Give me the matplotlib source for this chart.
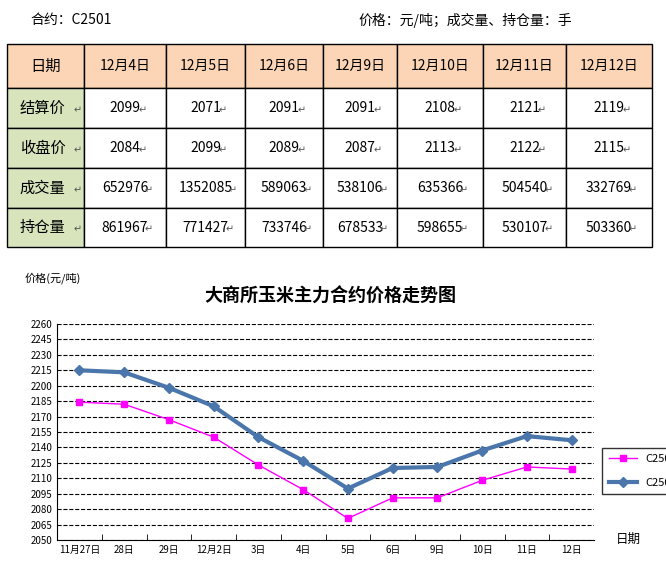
import matplotlib.pyplot as plt
from matplotlib.patches import Rectangle

plt.rcParams['font.family'] = ['Noto Sans CJK SC', 'DejaVu Sans']

dates = ['12月4日', '12月5日', '12月6日', '12月9日', '12月10日', '12月11日', '12月12日']
row_names = ['结算价', '收盘价', '成交量', '持仓量']
settle = [2099, 2071, 2091, 2091, 2108, 2121, 2119]
close = [2084, 2099, 2089, 2087, 2113, 2122, 2115]
volume = [652976, 1352085, 589063, 538106, 635366, 504540, 332769]
open_int = [861967, 771427, 733746, 678533, 598655, 530107, 503360]

x_labels = ['11月27日', '28日', '29日', '12月2日', '3日', '4日', '5日', '6日', '9日', '10日', '11日', '12日']
c2501 = [2184, 2182, 2167, 2150, 2123, 2099, 2071, 2091, 2091, 2108, 2121, 2119]
c2503 = [2215, 2213, 2198, 2180, 2150, 2127, 2100, 2120, 2121, 2137, 2151, 2147]

W, H = 666, 572
fig = plt.figure(figsize=(W / 100, H / 100), dpi=100)

# table drawn in pixel coords on an overlay axis
tab = fig.add_axes([0, 0, 1, 1])
tab.set_xlim(0, W)
tab.set_ylim(H, 0)
tab.axis('off')

tab.text(30, 20, '合约：C2501', fontsize=10, va='center')
tab.text(358, 20, '价格：元/吨；成交量、持仓量：手', fontsize=10, va='center')

cols = [7, 84, 166, 245, 323, 397, 483, 566, 652]
rows = [44, 88, 128, 168, 208, 247]
for i in range(len(cols) - 1):
    for j in range(len(rows) - 1):
        if j == 0:
            fc = '#fbd5b5'
        elif i == 0:
            fc = '#d7e4bc'
        else:
            fc = 'white'
        tab.add_patch(Rectangle((cols[i], rows[j]), cols[i + 1] - cols[i], rows[j + 1] - rows[j],
                                facecolor=fc, edgecolor='black', lw=1))

tab.text((cols[0] + cols[1]) / 2, (rows[0] + rows[1]) / 2, '日期', ha='center', va='center', fontsize=11)
for i, d in enumerate(dates):
    tab.text((cols[i + 1] + cols[i + 2]) / 2, (rows[0] + rows[1]) / 2, d,
             ha='center', va='center', fontsize=10)
for j, (name, vals) in enumerate(zip(row_names, [settle, close, volume, open_int])):
    cy = (rows[j + 1] + rows[j + 2]) / 2
    tab.text((cols[0] + cols[1]) / 2 - 3, cy, name, ha='center', va='center', fontsize=11)
    tab.text(cols[1] - 6, cy + 2, '↵', ha='center', va='center', fontsize=7, color='#555555')
    for i, v in enumerate(vals):
        cx = (cols[i + 1] + cols[i + 2]) / 2
        tab.text(cx, cy, str(v), ha='center', va='center', fontsize=10)
        tab.text(cx + len(str(v)) * 3.3 + 4, cy + 2, '↵', ha='center', va='center',
                 fontsize=7, color='#555555')

# chart
ax = fig.add_axes([57 / W, 1 - 540 / H, (594 - 57) / W, (540 - 324) / H])
x = list(range(len(x_labels)))
ax.plot(x, c2501, color='#ff00ff', lw=1, marker='s', ms=4, label='C2501')
ax.plot(x, c2503, color='#4a76ac', lw=3, marker='D', ms=5, label='C2503')
ax.set_xlim(-0.5, len(x_labels) - 0.5)
ax.set_ylim(2050, 2260)
ax.set_yticks(range(2050, 2261, 15))
ax.set_xticks(x)
ax.set_xticklabels(x_labels, fontsize=7)
ax.tick_params(axis='y', labelsize=7, length=0)
ax.tick_params(axis='x', length=0)
ax.set_xticks([k + 0.5 for k in x[:-1]], minor=True)
ax.tick_params(axis='x', which='minor', length=4, direction='in')
ax.grid(axis='y', color='black', ls='--', lw=0.8)
for s in ['top', 'right']:
    ax.spines[s].set_visible(False)
ax.legend(loc='center left', bbox_to_anchor=(1.005, 0.32), fontsize=8, frameon=True,
          fancybox=False, edgecolor='black', handlelength=2.5, labelspacing=1.2,
          borderpad=0.6)

fig.text(25 / W, 1 - 281 / H, '价格(元/吨)', fontsize=8)
fig.text(330 / W, 1 - 296 / H, '大商所玉米主力合约价格走势图', fontsize=13, weight='bold',
         ha='center', va='center')
fig.text(616 / W, 1 - 539 / H, '日期', fontsize=9, va='center')

fig.savefig('out.png', dpi=100)
